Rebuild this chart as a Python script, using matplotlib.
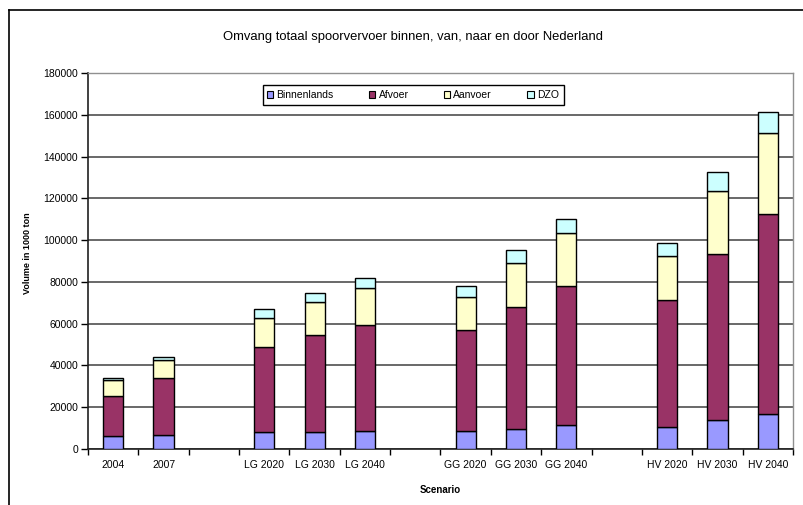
import numpy as np
import matplotlib.pyplot as plt
from matplotlib.patches import Patch
from matplotlib.lines import Line2D

plt.rcParams['font.family'] = ['Liberation Sans', 'DejaVu Sans']

##### Data (volume in 1000 ton), empty categories are the gaps between scenario groups
nan = np.nan
scenarios = ["2004", "2007", "", "LG 2020", "LG 2030", "LG 2040", "",
             "GG 2020", "GG 2030", "GG 2040", "",
             "HV 2020", "HV 2030", "HV 2040"]
binnenlands = [6000, 6700, nan, 8100, 7950, 8800, nan, 8400, 9700, 11700, nan, 10300, 14000, 16700]
afvoer = [19600, 27300, nan, 40700, 46650, 50600, nan, 48400, 58100, 66300, nan, 61000, 79200, 95600]
aanvoer = [7500, 8800, nan, 13700, 15600, 17500, nan, 15800, 21200, 25400, nan, 21100, 30200, 38900]
dzo = [800, 1400, nan, 4300, 4300, 4800, nan, 5600, 6200, 6900, nan, 6200, 9100, 10200]

series_names = ["Binnenlands", "Afvoer", "Aanvoer", "DZO"]
colors = ["#9999FF", "#993366", "#FFFFCC", "#CCFFFF"]

###########################################################################
# Figure and axes
###########################################################################
fig = plt.figure(figsize=(8.04, 5.05), dpi=100)
ax = fig.add_axes([88 / 804, 1 - 449 / 505, (793 - 88) / 804, (449 - 73) / 505])

# outer chart border (left and top visible)
fig.add_artist(Line2D([9 / 804, 9 / 804], [0, 1 - 10 / 505], transform=fig.transFigure,
                      color="black", lw=1.2))
fig.add_artist(Line2D([9 / 804, 1], [1 - 10 / 505, 1 - 10 / 505], transform=fig.transFigure,
                      color="black", lw=1.2))

x = np.arange(len(scenarios))
bottom = np.zeros(len(scenarios))
for name, vals, c in zip(series_names, [binnenlands, afvoer, aanvoer, dzo], colors):
    vals = np.array(vals, dtype=float)
    keep = ~np.isnan(vals)
    ax.bar(x[keep], vals[keep], width=0.4, bottom=bottom[keep], color=c,
           edgecolor="black", linewidth=1.0, zorder=3)
    bottom[keep] += vals[keep]

###########################################################################
# Axes styling
###########################################################################
ax.set_xlim(-0.5, len(scenarios) - 0.5)
ax.set_ylim(0, 180000)
ax.set_yticks(np.arange(0, 180001, 20000))
ax.set_yticklabels([str(v) for v in range(0, 180001, 20000)], fontsize=7.5)
ax.yaxis.grid(True, color="#404040", linewidth=1.1, zorder=0)
ax.set_axisbelow(True)

ax.set_xticks(x)
ax.set_xticklabels(scenarios, fontsize=7.5)
ax.tick_params(axis="x", length=0, pad=8)
ax.set_xticks(np.arange(-0.5, len(scenarios)), minor=True)
ax.tick_params(axis="x", which="minor", length=4, width=1.0, direction="out")
ax.tick_params(axis="y", length=5, width=1.0, direction="out", pad=2)

for s in ["left", "bottom"]:
    ax.spines[s].set_color("#202020")
    ax.spines[s].set_linewidth(1.2)
for s in ["top", "right"]:
    ax.spines[s].set_color("#909090")
    ax.spines[s].set_linewidth(1.0)

ax.set_xlabel("Scenario", fontsize=7, fontweight="bold")
ax.xaxis.set_label_coords(0.5, -0.095)
ax.set_ylabel("Volume in 1000 ton", fontsize=6.5, fontweight="bold")
ax.yaxis.set_label_coords(-56 / 705, 0.52)

fig.text(413 / 804, 1 - 37 / 505, "Omvang totaal spoorvervoer binnen, van, naar en door Nederland",
         ha="center", va="center", fontsize=9.4)

handles = [Patch(facecolor=c, edgecolor="black", linewidth=0.8) for c in colors]
leg = ax.legend(handles, series_names, loc="center", ncol=4, fontsize=7.5,
                bbox_to_anchor=(413 / 804, 1 - 95 / 505), bbox_transform=fig.transFigure,
                frameon=True, fancybox=False, framealpha=1, edgecolor="black",
                handlelength=0.6, handleheight=0.6, handletextpad=0.3,
                columnspacing=3.4, borderpad=0.45)
leg.get_frame().set_linewidth(1.0)

plt.savefig("out.png", dpi=100)
